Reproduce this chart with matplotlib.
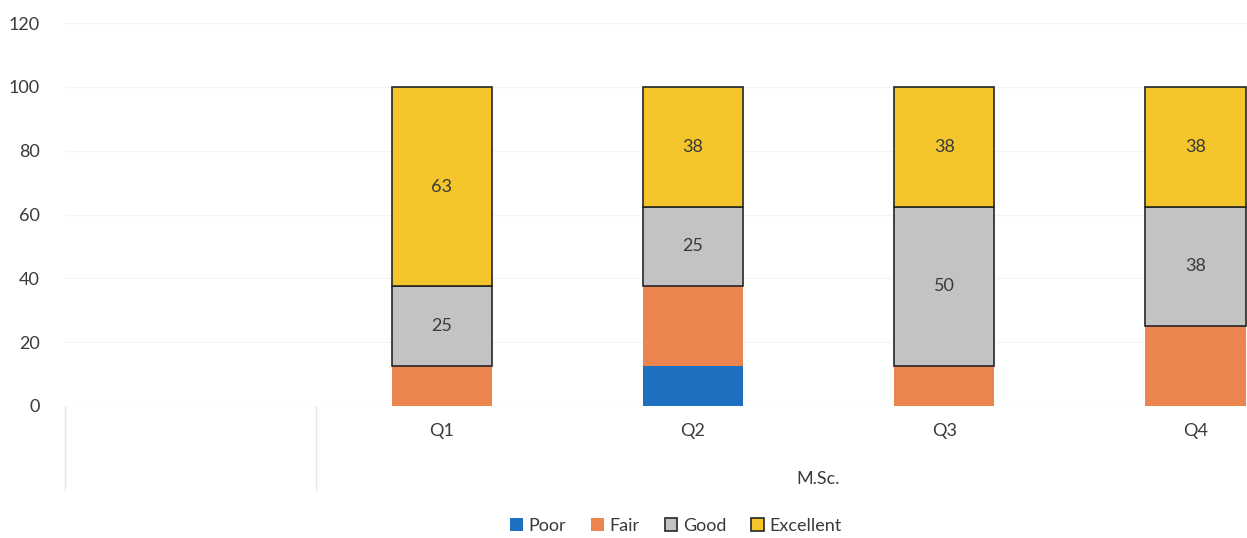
import matplotlib.pyplot as plt
import numpy as np

plt.rcParams['font.family'] = ['Lato', 'DejaVu Sans']

categories = ['Q1', 'Q2', 'Q3', 'Q4']
group_label = 'M.Sc.'
poor = [0, 12.5, 0, 0]
fair = [12.5, 25, 12.5, 25]
good = [25, 25, 50, 37.5]
excellent = [62.5, 37.5, 37.5, 37.5]
yticks = [0, 20, 40, 60, 80, 100, 120]

fig = plt.figure(figsize=(12.47, 5.38), dpi=100)
ax = fig.add_axes([65 / 1247, 1 - 406 / 538, (1321 - 65) / 1247, (406 - 23) / 538])

# first slot on the category axis is empty, like the original
x = np.arange(len(categories)) + 1
w = 0.4
edge = '#262626'
b1 = ax.bar(x, poor, w, color='#1f6fc0', label='Poor')
b2 = ax.bar(x, fair, w, bottom=poor, color='#ec8450', label='Fair')
base = np.array(poor) + np.array(fair)
b3 = ax.bar(x, good, w, bottom=base, color='#c3c3c3', edgecolor=edge, linewidth=1.2, label='Good')
base2 = base + np.array(good)
b4 = ax.bar(x, excellent, w, bottom=base2, color='#f5c62b', edgecolor=edge, linewidth=1.2, label='Excellent')

def fmt(v):
    return '' if v == 0 else str(int(np.floor(v + 0.5)))

ax.bar_label(b3, labels=[fmt(v) for v in good], label_type='center', fontsize=13, color='#3a3a3a')
ax.bar_label(b4, labels=[fmt(v) for v in excellent], label_type='center', fontsize=13, color='#3a3a3a')

ax.set_xlim(-0.5, 4.5)
ax.set_ylim(0, 120)
ax.set_yticks(yticks)
ax.set_xticks(x)
ax.set_xticklabels(categories, fontsize=13, color='#3a3a3a')
ax.tick_params(axis='both', length=0, labelsize=13, colors='#3a3a3a')
ax.tick_params(axis='y', pad=18)
ax.tick_params(axis='x', pad=12)
ax.yaxis.grid(True, color='#f4f4f4', linewidth=0.8)
ax.set_axisbelow(True)
for s in ax.spines.values():
    s.set_visible(False)

trans = ax.get_xaxis_transform()
for xs in [-0.5, 0.5]:
    ax.plot([xs, xs], [0, -0.22], transform=trans, color='#e6e6e6', linewidth=1, clip_on=False)
ax.text(2.5, -0.19, group_label, transform=trans, ha='center', va='center', fontsize=13, color='#3a3a3a')

fig.legend(handles=[b1, b2, b3, b4], loc='center', bbox_to_anchor=(676 / 1247, 1 - 526 / 538),
           ncol=4, frameon=False, fontsize=13, handlelength=0.7, handleheight=0.7,
           handletextpad=0.3, columnspacing=1.4, labelcolor='#3a3a3a')

fig.savefig('out.png', dpi=100)
